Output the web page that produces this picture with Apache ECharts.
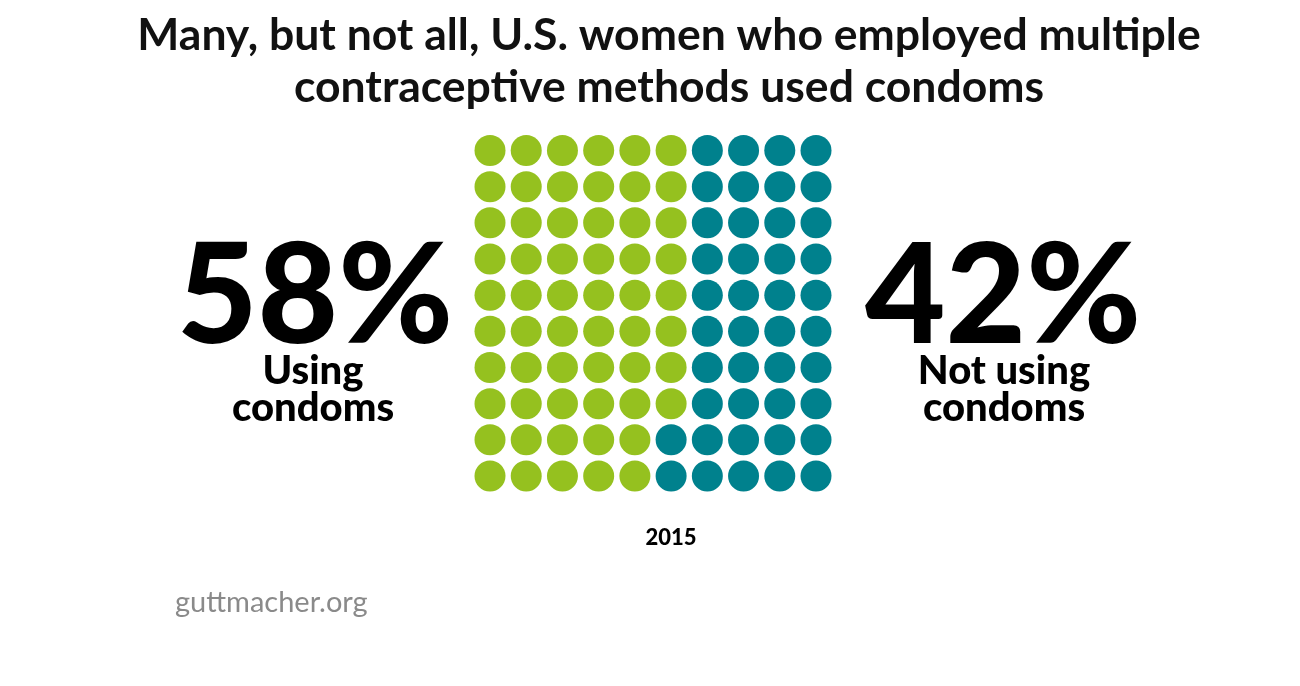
<!DOCTYPE html>
<html>
<head>
<meta charset="utf-8">
<script src="https://cdn.jsdelivr.net/npm/echarts@6/dist/echarts.min.js"></script>
<style>
html,body{margin:0;padding:0;background:#fff;}
#chart{width:1300px;height:686px;}
</style>
</head>
<body>
<div id="chart"></div>
<script>
// Data
const categories = ['Using condoms', 'Not using condoms'];
const values = [58, 42];
const percentLabels = ['58%', '42%'];
const sideLabels = ['Using\ncondoms', 'Not using\ncondoms'];
const colors = ['#95c11f', '#00818d'];
const year = '2015';
const gridCols = 10;
const gridRows = 10;

// Build waffle cells: filled column by column, top to bottom
const seriesData = [[], []];
let idx = 0;
for (let c = 0; c < gridCols; c++) {
  for (let r = 0; r < gridRows; r++) {
    const cat = idx < values[0] ? 0 : 1;
    seriesData[cat].push([c, r]);
    idx++;
  }
}

const FONT = 'Lato';
const chart = echarts.init(document.getElementById('chart'));
chart.setOption({
  backgroundColor: '#fff',
  animation: false,
  title: [
    {
      text: 'Many, but not all, U.S. women who employed multiple\ncontraceptive methods used condoms',
      left: 664, top: 5,
      textAlign: 'center',
      textStyle: { fontFamily: FONT, fontWeight: 'bold', fontSize: 44.5, lineHeight: 52, color: '#111', align: 'center' }
    },
    {
      text: percentLabels[0], left: 310, top: 224, textAlign: 'center',
      textStyle: { fontFamily: FONT, fontWeight: 900, fontSize: 139, color: '#000' }
    },
    {
      text: sideLabels[0], left: 308, top: 348, textAlign: 'center',
      textStyle: { fontFamily: FONT, fontWeight: 900, fontSize: 40, lineHeight: 37, color: '#000', align: 'center' }
    },
    {
      text: percentLabels[1], left: 998, top: 224, textAlign: 'center',
      textStyle: { fontFamily: FONT, fontWeight: 900, fontSize: 139, color: '#000' }
    },
    {
      text: sideLabels[1], left: 999, top: 348, textAlign: 'center',
      textStyle: { fontFamily: FONT, fontWeight: 900, fontSize: 40, lineHeight: 37, color: '#000', align: 'center' }
    },
    {
      text: year, left: 666, top: 522, textAlign: 'center',
      textStyle: { fontFamily: FONT, fontWeight: 900, fontSize: 22, color: '#000' }
    },
    {
      text: 'guttmacher.org', left: 170, top: 583,
      textStyle: { fontFamily: FONT, fontWeight: 'normal', fontSize: 29, color: '#8a8a8a' }
    }
  ],
  grid: { left: 490, top: 150.5, width: 326, height: 325.5 },
  xAxis: { type: 'value', min: 0, max: gridCols - 1, show: false },
  yAxis: { type: 'value', min: 0, max: gridRows - 1, inverse: true, show: false },
  series: categories.map((name, i) => ({
    name,
    type: 'scatter',
    symbol: 'circle',
    symbolSize: 31,
    itemStyle: { color: colors[i], opacity: 1 },
    emphasis: { disabled: true },
    data: seriesData[i]
  }))
});
</script>
</body>
</html>
